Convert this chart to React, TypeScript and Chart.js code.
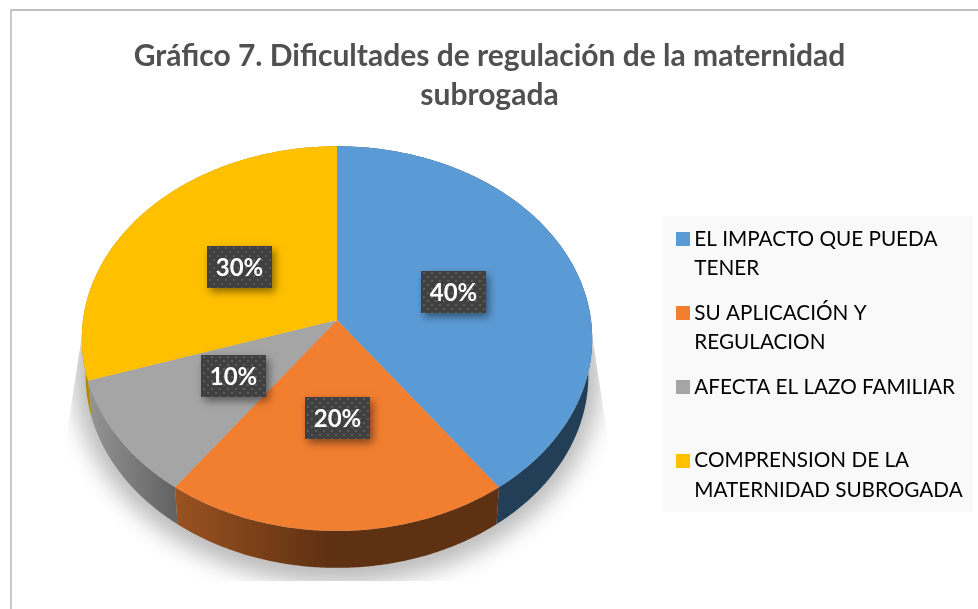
import React, { useEffect, useRef } from "react";
import { Chart, registerables } from "chart.js";

Chart.register(...registerables);

const titleLines = ["Gráfico 7. Dificultades de regulación de la maternidad", "subrogada"];
const categories = [
  ["EL IMPACTO QUE PUEDA", "TENER"],
  ["SU APLICACIÓN Y", "REGULACION"],
  ["AFECTA EL LAZO FAMILIAR", ""],
  ["COMPRENSION DE LA", "MATERNIDAD SUBROGADA"],
];
const values = [40, 20, 10, 30];
const faceColors = ["#5b9bd5", "#f27e30", "#a5a5a5", "#ffc000"];
const wallFrom = ["#223f57", "#9a5220", "#959595", "#b38600"];
const wallTo = ["#223f57", "#5f3113", "#626262", "#b38600"];
const wallFade = [1, 0.47, 1, 1];

const PERSPECTIVE = -0.0966;
const SQUASH = 0.75;
const DEPTH = 37;
const FONT = "Lato, Carlito, sans-serif";

function project(el: any, a: number, r = 1) {
  const u = Math.cos(a) * r;
  const v = Math.sin(a) * r;
  const d = 1 + PERSPECTIVE * v;
  return { x: el.x + (el.outerRadius * u) / d, y: el.y + (el.outerRadius * SQUASH * v) / d };
}

function rim(el: any) {
  const pts: { x: number; y: number }[] = [];
  const n = Math.max(2, Math.ceil((el.endAngle - el.startAngle) / 0.01));
  for (let i = 0; i <= n; i++) {
    pts.push(project(el, el.startAngle + ((el.endAngle - el.startAngle) * i) / n));
  }
  return pts;
}

function lower(el: any, p: { x: number; y: number }) {
  return { x: el.x + (p.x - el.x) * 0.985, y: p.y + DEPTH };
}

function dotPattern(ctx: CanvasRenderingContext2D) {
  const c = document.createElement("canvas");
  c.width = 8;
  c.height = 8;
  const g = c.getContext("2d")!;
  g.fillStyle = "#404040";
  g.fillRect(0, 0, 8, 8);
  g.fillStyle = "#5c5c5c";
  g.fillRect(2, 1, 2, 2);
  g.fillRect(6, 5, 2, 2);
  return ctx.createPattern(c, "repeat")!;
}

function swatch(color: string) {
  const c = document.createElement("canvas");
  c.width = 14;
  c.height = 14;
  const g = c.getContext("2d")!;
  g.fillStyle = color;
  g.fillRect(0, 0, 14, 14);
  return c;
}

const scene = {
  id: "scene",
  beforeDraw(chart: any) {
    const { ctx } = chart;
    ctx.save();
    ctx.fillStyle = "#ffffff";
    ctx.fillRect(0, 0, chart.width, chart.height);
    ctx.fillStyle = "#bfbfbf";
    ctx.fillRect(10, 9, chart.width - 10, 2);
    ctx.fillStyle = "#c9c9c9";
    ctx.fillRect(10, 9, 2, chart.height - 9);
    ctx.fillStyle = "#f9f9f9";
    ctx.fillRect(663, 216, 310, 296);
    ctx.restore();
  },
  afterLayout(chart: any) {
    const a = chart.chartArea;
    a.left = 83;
    a.right = 591;
    a.top = 66;
    a.bottom = 574;
    a.width = 508;
    a.height = 508;
    const t = chart.titleBlock;
    t.left = 0;
    t.right = 979;
    t.width = 979;
    t.top = 0;
    const l = chart.legend;
    l.left = 667;
    l.right = 1000;
    l.top = 214;
    l.bottom = 520;
  },
  beforeDatasetsDraw(chart: any) {
    const { ctx } = chart;
    const arcs = chart.getDatasetMeta(0).data;
    const c0 = arcs[0];

    // Soft floor shadow
    ctx.save();
    ctx.beginPath();
    ctx.moveTo(84, 322);
    ctx.lineTo(590, 322);
    ctx.lineTo(609, 445);
    ctx.lineTo(609, 581);
    ctx.lineTo(65, 581);
    ctx.lineTo(65, 445);
    ctx.closePath();
    ctx.clip();
    ctx.filter = "blur(11px)";
    ctx.fillStyle = "#bcbcbc";
    ctx.beginPath();
    ctx.ellipse(c0.x, 372, 264, 212, 0, 0, Math.PI * 2);
    ctx.fill();
    ctx.restore();

    // Side walls
    arcs.forEach((el: any, i: number) => {
      const top = rim(el);
      const bottom = top.map((p) => lower(el, p)).reverse();
      const xs = top.map((p) => p.x);
      const grad = ctx.createLinearGradient(Math.min(...xs), 0, Math.max(...xs), 0);
      grad.addColorStop(0, wallFrom[i]);
      grad.addColorStop(wallFade[i], wallTo[i]);
      ctx.beginPath();
      [...top, ...bottom].forEach((p, k) => (k ? ctx.lineTo(p.x, p.y) : ctx.moveTo(p.x, p.y)));
      ctx.closePath();
      ctx.fillStyle = grad;
      ctx.fill();
    });

    // Top faces
    arcs.forEach((el: any) => {
      ctx.beginPath();
      ctx.moveTo(el.x, el.y);
      rim(el).forEach((p) => ctx.lineTo(p.x, p.y));
      ctx.closePath();
      ctx.fillStyle = el.options.backgroundColor;
      ctx.fill();
    });

    // Value labels
    const pattern = dotPattern(ctx);
    arcs.forEach((el: any, i: number) => {
      const p = project(el, (el.startAngle + el.endAngle) / 2, 0.49);
      const w = 65;
      const h = 42;
      const x = Math.round(p.x - w / 2);
      const y = Math.round(p.y - h / 2);
      ctx.save();
      ctx.shadowColor = "rgba(0,0,0,0.45)";
      ctx.shadowBlur = 8;
      ctx.shadowOffsetX = 3;
      ctx.shadowOffsetY = 4;
      ctx.fillStyle = "#404040";
      ctx.fillRect(x, y, w, h);
      ctx.restore();
      ctx.save();
      ctx.translate(x, y);
      ctx.fillStyle = pattern;
      ctx.fillRect(0, 0, w, h);
      ctx.restore();
      ctx.save();
      ctx.fillStyle = "#ffffff";
      ctx.font = `bold 24px ${FONT}`;
      ctx.textAlign = "center";
      ctx.textBaseline = "middle";
      ctx.fillText(`${values[i]}%`, x + w / 2, y + h / 2 + 1);
      ctx.restore();
    });
    return false;
  },
};

export default function App() {
  const ref = useRef<HTMLCanvasElement>(null);
  useEffect(() => {
    const chart = new Chart(ref.current!, {
      type: "pie",
      data: {
        labels: categories as any,
        datasets: [{ data: values, backgroundColor: faceColors, borderWidth: 0 }],
      },
      options: {
        responsive: false,
        animation: false,
        events: [],
        devicePixelRatio: 1,
        plugins: {
          tooltip: { enabled: false },
          title: {
            display: true,
            text: titleLines,
            color: "#505050",
            font: { family: FONT, size: 30, weight: "bold", lineHeight: 1.3 },
            padding: { top: 36.5, bottom: 4 },
          },
          legend: {
            position: "right",
            align: "start",
            labels: {
              usePointStyle: true,
              pointStyleWidth: 2,
              padding: 15,
              color: "#505050",
              font: { family: FONT, size: 20.7, lineHeight: 1.42 },
              generateLabels: () =>
                categories.map((text, i) => ({
                  text,
                  fillStyle: faceColors[i],
                  strokeStyle: faceColors[i],
                  lineWidth: 0,
                  pointStyle: swatch(faceColors[i]),
                  hidden: false,
                  index: i,
                })) as any,
            },
          },
        },
      } as any,
      plugins: [scene],
    });
    return () => chart.destroy();
  }, []);
  return (
    <canvas
      ref={ref}
      width={978}
      height={609}
      style={{ position: "fixed", left: 0, top: 0, display: "block" }}
    />
  );
}
